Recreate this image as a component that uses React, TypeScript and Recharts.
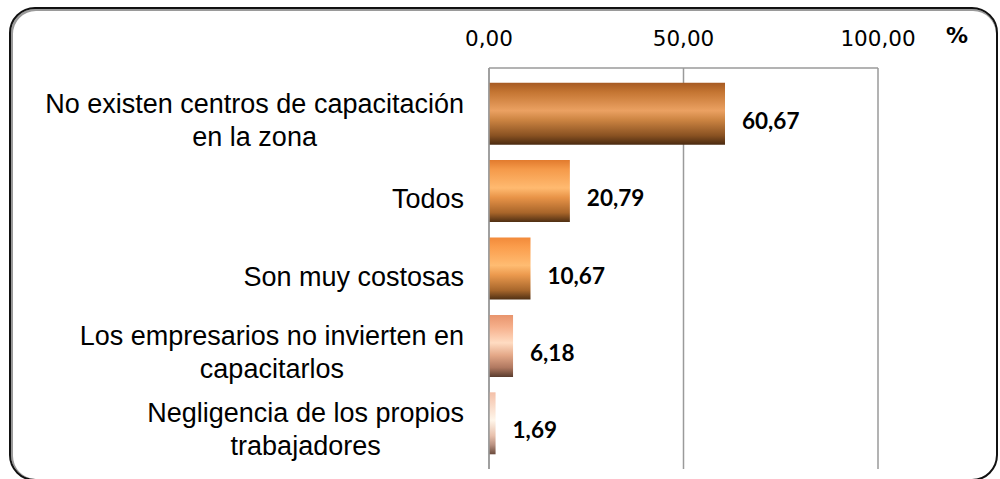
import React from 'react';
import { BarChart, Bar, XAxis, YAxis, CartesianGrid, LabelList, Cell } from 'recharts';

const categories: string[][] = [
  ['No existen centros de capacitación', 'en la zona'],
  ['Todos'],
  ['Son muy costosas'],
  ['Los empresarios no invierten en', 'capacitarlos'],
  ['Negligencia de los propios', 'trabajadores'],
];
const values: number[] = [60.67, 20.79, 10.67, 6.18, 1.69];
const xTicks: number[] = [0, 50, 100];
const unitLabel = '%';

const gradients: { id: string; stops: [number, string][] }[] = [
  { id: 'g0', stops: [[0, '#a65a22'], [0.15, '#c47532'], [0.45, '#eba162'], [0.6, '#cc8442'], [0.85, '#8a5222'], [1, '#4a2a10']] },
  { id: 'g1', stops: [[0, '#e27b2e'], [0.15, '#f59a4a'], [0.45, '#ffba70'], [0.6, '#e99448'], [0.85, '#a8652a'], [1, '#4e2e12']] },
  { id: 'g2', stops: [[0, '#f28a3a'], [0.15, '#fb9d4c'], [0.45, '#ffbc72'], [0.6, '#ec9a4e'], [0.85, '#a8672c'], [1, '#503014']] },
  { id: 'g3', stops: [[0, '#e8946c'], [0.2, '#f6b08c'], [0.45, '#ffdcc2'], [0.65, '#e4a888'], [0.85, '#b07860'], [1, '#5a3c2e']] },
  { id: 'g4', stops: [[0, '#f4c0a8'], [0.45, '#fff6ea'], [0.7, '#e8c0ac'], [0.85, '#b89080'], [1, '#6a4a3c']] },
];

const data = categories.map((lines, i) => ({ name: lines.join(' '), lines, value: values[i] }));

const fmt = (v: number) => v.toFixed(2).replace('.', ',');

const CAT_FONT = "27px 'Liberation Sans'";
let ctx: CanvasRenderingContext2D | null = null;
const measure = (s: string) => {
  try {
    if (!ctx) ctx = document.createElement('canvas').getContext('2d');
    if (ctx) {
      ctx.font = CAT_FONT;
      return ctx.measureText(s).width;
    }
  } catch (e) {}
  return s.length * 13;
};

const CategoryTick = (props: any) => {
  const { x, y, payload } = props;
  const item = data.find((d) => d.name === payload.value);
  const lines = item ? item.lines : [String(payload.value)];
  const widths = lines.map(measure);
  const blockW = Math.max(...widths);
  const right = x - 17;
  const cx = right - blockW / 2;
  const lh = 33;
  const first = y + 17 - (lines.length - 1) * 18;
  return (
    <text textAnchor="middle" fontFamily="Liberation Sans, Arial, sans-serif" fontSize={27} fill="#000">
      {lines.map((l, i) => (
        <tspan key={i} x={cx} y={first + i * lh}>{l}</tspan>
      ))}
    </text>
  );
};

const XTick = (props: any) => {
  const { x, y, payload } = props;
  return (
    <text x={x} y={y} textAnchor="middle" fontFamily="DejaVu Sans, Verdana, sans-serif" fontSize={21.5} fill="#000">
      {fmt(payload.value)}
    </text>
  );
};

const ValueLabel = (props: any) => {
  const { x, y, width, height, value } = props;
  return (
    <text x={x + width + 17} y={y + height / 2 + 15} fontFamily="Lato, Open Sans, sans-serif" fontWeight={700} fontSize={22.5} fill="#000">
      {fmt(Number(value))}
    </text>
  );
};

const UnitLabel = (props: any) => {
  const vb = props.viewBox || {};
  return (
    <text x={vb.x + vb.width + 79} y={vb.y + vb.height - 25} textAnchor="middle" fontFamily="DejaVu Sans, Verdana, sans-serif" fontWeight={700} fontSize={22} fill="#000">
      {unitLabel}
    </text>
  );
};

export default function App() {
  return (
    <div style={{ position: 'absolute', left: 0, top: 0, width: 1000, height: 479, overflow: 'hidden', background: '#fff' }}>
      <div
        style={{
          position: 'absolute',
          left: 9,
          top: 7,
          width: 989,
          height: 474,
          boxSizing: 'border-box',
          border: '2px solid #111',
          borderRadius: 26,
          boxShadow: 'inset 1px 1px 0 1px #9a9a9a',
        }}
      />
      <div style={{ position: 'absolute', left: 0, top: 0 }}>
        <BarChart
          width={1000}
          height={479}
          data={data}
          layout="vertical"
          margin={{ top: 8, right: 122, bottom: 10, left: 0 }}
          barCategoryGap={7.7}
        >
          <defs>
            {gradients.map((g) => (
              <linearGradient key={g.id} id={g.id} x1="0" y1="0" x2="0" y2="1">
                {g.stops.map(([o, c], i) => (
                  <stop key={i} offset={o} stopColor={c} />
                ))}
              </linearGradient>
            ))}
          </defs>
          <CartesianGrid horizontal={false} vertical={true} stroke="#9a9a9a" strokeWidth={1.5} />
          <XAxis
            type="number"
            orientation="top"
            domain={[0, 100]}
            ticks={xTicks}
            height={60}
            tickLine={false}
            tickSize={22}
            tickMargin={0}
            axisLine={{ stroke: '#9a9a9a', strokeWidth: 1.5 }}
            tick={<XTick />}
            label={<UnitLabel />}
          />
          <YAxis
            type="category"
            dataKey="name"
            width={489}
            padding={{ top: 7, bottom: 7 }}
            tickLine={false}
            axisLine={{ stroke: '#9a9a9a', strokeWidth: 1.5 }}
            tick={<CategoryTick />}
            interval={0}
          />
          <Bar dataKey="value" isAnimationActive={false}>
            {data.map((d, i) => (
              <Cell key={i} fill={`url(#${gradients[i].id})`} />
            ))}
            <LabelList dataKey="value" content={<ValueLabel />} />
          </Bar>
        </BarChart>
      </div>
    </div>
  );
}
